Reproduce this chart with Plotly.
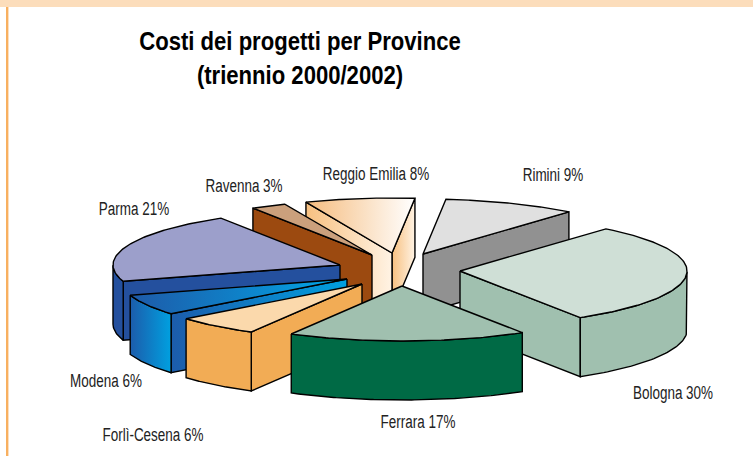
import numpy as np
import plotly.graph_objects as go

# --- data ---
provinces = ["Bologna", "Rimini", "Reggio Emilia", "Ravenna", "Parma", "Modena", "Forlì-Cesena", "Ferrara"]
shares = [30, 9, 8, 3, 21, 6, 6, 17]
# slice sizes as measured on the drawing (the printed labels are rounded)
slice_sizes = [30, 9.5, 7.8, 2.6, 21, 6.1, 6, 17]
title_lines = ["Costi dei progetti per Province", "(triennio 2000/2002)"]

# --- styling / layout ---
apex_x = [460, 423, 392, 372, 340, 347, 362, 402]
apex_y = [271, 254, 253, 255, 265, 279, 284, 286]
label_x = [673, 553, 376, 244, 134, 106, 153, 418]
label_y = [394, 176, 175, 187, 210, 382, 436, 423]
top_fill = ["#CFDFD6", "#E0E0E0", ("#F5BC7E", "#FFFFFF"), "#CBA07C", "#9C9FCB",
            ("#1E5AA8", "#00A8E8"), "#FBD9AC", "#A0C0AF"]
wall_fill = ["#A0C0AF", "#919191", ("#F7C080", "#FFF3E4"), "#9C4A10", "#24509E",
             ("#1C5CAB", "#00A0E0"), "#F2AC55", "#006A45"]
draw_order = [1, 2, 3, 4, 5, 6, 0, 7]
RX, RY, DEPTH, START = 227, 55, 59, 32
OUTLINE = "#000000"
FONT = "Liberation Sans"

fig = go.Figure()


def add_poly(xs, ys, fill):
    kw = dict(fillcolor=fill) if isinstance(fill, str) else dict(
        fillgradient=dict(type="horizontal", colorscale=[[0, fill[0]], [1, fill[1]]]))
    fig.add_trace(go.Scatter(x=xs, y=ys, mode="lines", fill="toself", hoverinfo="skip",
                             line=dict(color=OUTLINE, width=1.4), showlegend=False, **kw))


def rim(cx, cy, t):
    t = np.radians(t)
    return cx + RX * np.sin(t), cy + RY * np.cos(t)


edges = START + np.cumsum([0] + slice_sizes) * 3.6

for i in draw_order:
    a, b = edges[i], edges[i + 1]
    cx, cy = apex_x[i], apex_y[i]
    # cut faces that turn towards the viewer
    for ang, visible in ((a, np.sin(np.radians(a)) > 0), (b, np.sin(np.radians(b)) < 0)):
        if visible:
            px, py = rim(cx, cy, ang)
            add_poly([cx, px, px, cx, cx], [cy, py, py + DEPTH, cy + DEPTH, cy], wall_fill[i])
    # outer wall: front part of the rim only
    t = np.linspace(a, b, 90)
    t = t[np.cos(np.radians(t)) >= 0]
    if len(t):
        wx, wy = rim(cx, cy, t)
        add_poly(np.r_[wx, wx[::-1], wx[0]], np.r_[wy, wy[::-1] + DEPTH, wy[0]], wall_fill[i])
    # top face
    t = np.linspace(a, b, 90)
    tx, ty = rim(cx, cy, t)
    add_poly(np.r_[cx, tx, cx], np.r_[cy, ty, cy], top_fill[i])

fig.add_trace(go.Scatter(
    x=label_x, y=label_y, mode="text", hoverinfo="skip", showlegend=False,
    text=[f"{p} {s}%" for p, s in zip(provinces, shares)],
    textposition="middle center",
    textfont=dict(family=FONT, size=19, color="#222222"),
))

fig.update_layout(
    width=753, height=456, margin=dict(l=0, r=0, t=0, b=0),
    paper_bgcolor="#FFFFFF", plot_bgcolor="#FFFFFF",
    xaxis=dict(range=[0, 753], visible=False, fixedrange=True),
    yaxis=dict(range=[456, 0], visible=False, fixedrange=True),
    title=dict(text="<br>".join(title_lines), x=300 / 753, xanchor="center", y=1 - 50 / 456, yanchor="top",
               font=dict(family=FONT, size=26, color="#000000", weight="bold")),
    shapes=[
        dict(type="rect", xref="x", yref="y", x0=0, x1=753, y0=0, y1=7, fillcolor="#FCDDBB", line_width=0, layer="below"),
        dict(type="rect", xref="x", yref="y", x0=6, x1=8.4, y0=7, y1=456, fillcolor="#F8B060", line_width=0, layer="below"),
    ],
)

# The reference lettering is condensed and no narrow face is installed: squeeze real text horizontally.
squeeze = """
document.body.style.margin='0';document.body.style.overflow='hidden';
function squeeze(){
  [['.textpoint text',0.71],['.gtitle',0.85]].forEach(function(p){
    document.querySelectorAll(p[0]).forEach(function(el){
      if(el.dataset.sq) return;
      var b=el.getBBox(); var c=b.x+b.width/2;
      var old=el.getAttribute('transform')||'';
      el.setAttribute('transform',old+' translate('+c+',0) scale('+p[1]+',1) translate('+(-c)+',0)');
      el.dataset.sq='1';
    });
  });
}
squeeze();setTimeout(squeeze,50);setTimeout(squeeze,300);
"""
fig.write_html("out.html", config={"displayModeBar": False}, post_script=squeeze)
